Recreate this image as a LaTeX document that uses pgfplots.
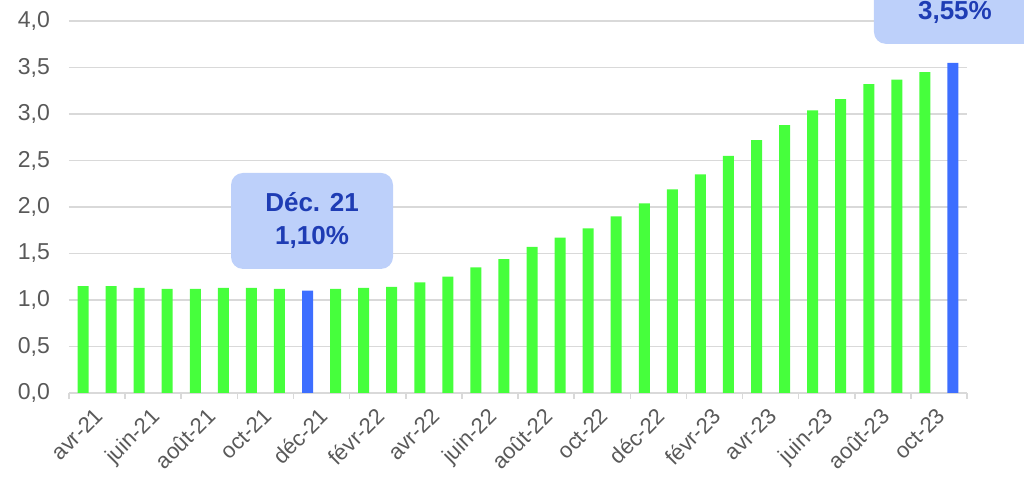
\documentclass[border=0pt]{standalone}
\usepackage{fontspec}
\setmainfont{Liberation Sans}
\usepackage{pgfplots}
\usepackage{pgfplotstable}
\pgfplotsset{compat=1.18}

\definecolor{barg}{HTML}{46FF3C}
\definecolor{barb}{HTML}{3D6EFF}
\definecolor{gridc}{HTML}{D9D9D9}
\definecolor{txt}{HTML}{595959}
\definecolor{boxf}{HTML}{BDD0FA}
\definecolor{boxt}{HTML}{1E3CB4}

% monthly values, avr-21 = 0 ... nov-23 = 31
\pgfplotstableread{
x y
0 1.15
1 1.15
2 1.13
3 1.12
4 1.12
5 1.13
6 1.13
7 1.12
9 1.12
10 1.13
11 1.14
12 1.19
13 1.25
14 1.35
15 1.44
16 1.57
17 1.67
18 1.77
19 1.90
20 2.04
21 2.19
22 2.35
23 2.55
24 2.72
25 2.88
26 3.04
27 3.16
28 3.32
29 3.37
30 3.45
}\greenbars

\pgfplotstableread{
x y
8 1.10
31 3.55
}\bluebars

\begin{document}
\begin{tikzpicture}
\clip (-34.5pt,-43.5pt) rectangle (477.5pt,196.5pt);
\begin{axis}[
    at={(0,0)}, anchor=south west,
    scale only axis, width=449pt, height=186pt,
    xmin=-0.5, xmax=31.5, ymin=0, ymax=4,
    ybar, bar width=5.5pt,
    clip=false,
    axis x line*=bottom, axis y line*=left,
    y axis line style={draw=none},
    x axis line style={draw=gridc, line width=0.75pt, -},
    xtick={0,2,...,30},
    xticklabels={avr-21,juin-21,août-21,oct-21,déc-21,févr-22,avr-22,juin-22,août-22,oct-22,déc-22,févr-23,avr-23,juin-23,août-23,oct-23},
    minor xtick={-0.5,1.5,...,31.5},
    major tick length=0pt, minor tick length=3pt,
    tick align=outside,
    minor tick style={draw=gridc, line width=0.75pt},
    ytick={0,0.5,...,4},
    ymajorgrids,
    major grid style={draw=gridc, line width=0.75pt},
    tick label style={text=txt},
    xticklabel style={font=\fontsize{11}{12}\selectfont, rotate=45, anchor=north east, yshift=-5pt, xshift=2.5pt},
    yticklabel style={font=\fontsize{11.5}{13}\selectfont, xshift=-6pt},
    /pgf/number format/assume math mode=true,
    yticklabel={\pgfmathprintnumber[fixed, fixed zerofill, precision=1, use comma]{\tick}},
]
\addplot[fill=barg, draw=none, bar shift=0pt] table[x=x, y=y] {\greenbars};
\addplot[fill=barb, draw=none, bar shift=0pt] table[x=x, y=y] {\bluebars};

\node[fill=boxf, rounded corners=6pt, minimum width=81pt, minimum height=48pt,
      align=center, text=boxt, font=\fontsize{13}{16.5}\selectfont\bfseries]
      at (axis cs:8.16,1.85) {\raisebox{-1.5pt}{Déc. 21}\\\raisebox{-1.5pt}{1,10\%}};
\node[fill=boxf, rounded corners=6pt, minimum width=81pt, minimum height=48pt,
      align=center, text=boxt, font=\fontsize{13}{16.5}\selectfont\bfseries]
      at (axis cs:31.07,4.27) {\raisebox{-1.5pt}{Nov. 23}\\\raisebox{-1.5pt}{3,55\%}};
\end{axis}
\end{tikzpicture}
\end{document}
